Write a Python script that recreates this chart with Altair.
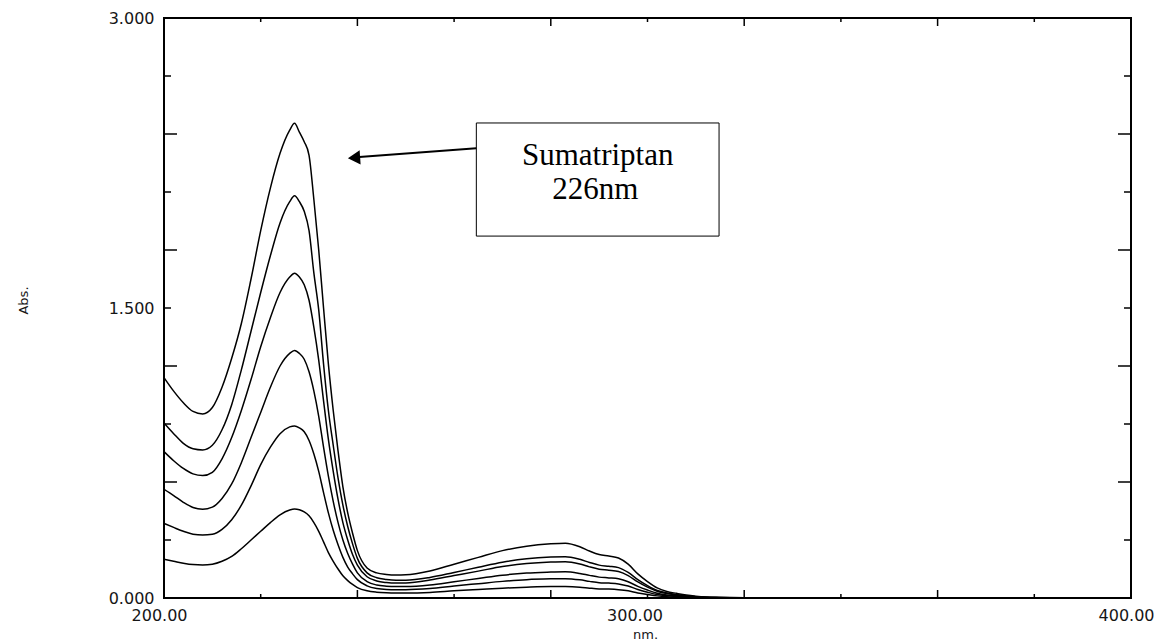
import altair as alt
import pandas as pd

# ---------------- data ----------------
wavelength = [200, 202, 204, 206, 208, 210, 212, 214, 216, 218, 220, 222, 224, 226,
              227, 228, 229, 230, 231, 232, 233, 234, 235, 236, 237, 238, 239, 240,
              242, 244, 246, 248, 250,
              255, 260, 265, 270, 275, 280,
              283, 286, 288, 290, 292, 294, 296, 298, 300, 302, 304, 306, 308, 310, 312,
              315, 320, 330, 350, 400]

abs_c1 = [1.14, 1.07, 1.01, 0.965, 0.952, 0.985, 1.09, 1.24, 1.42, 1.65, 1.90, 2.12, 2.30, 2.42,
          2.455, 2.41, 2.36, 2.29, 2.06, 1.80, 1.50, 1.21, 0.97, 0.76, 0.575, 0.44, 0.335, 0.245,
          0.155, 0.13, 0.122, 0.119, 0.12,
          0.14, 0.175, 0.21, 0.245, 0.268, 0.28,
          0.283, 0.265, 0.243, 0.225, 0.217, 0.207, 0.175, 0.125, 0.085, 0.052, 0.034, 0.024, 0.015, 0.009, 0.005,
          0.003, 0.001, 0.0, 0.0, 0.0]

abs_c2 = [0.905, 0.85, 0.80, 0.772, 0.766, 0.79, 0.87, 1.00, 1.18, 1.38, 1.58, 1.77, 1.94, 2.05,
          2.08, 2.05, 2.00, 1.90, 1.68, 1.49, 1.21, 0.97, 0.79, 0.62, 0.48, 0.37, 0.28, 0.205,
          0.13, 0.105, 0.096, 0.092, 0.092,
          0.106, 0.132, 0.159, 0.185, 0.203, 0.212,
          0.214, 0.200, 0.184, 0.170, 0.164, 0.157, 0.132, 0.095, 0.064, 0.039, 0.026, 0.018, 0.011, 0.007, 0.004,
          0.002, 0.001, 0.0, 0.0, 0.0]

abs_c3 = [0.757, 0.71, 0.67, 0.642, 0.633, 0.65, 0.72, 0.83, 0.97, 1.13, 1.30, 1.45, 1.58, 1.66,
          1.68, 1.66, 1.62, 1.54, 1.40, 1.23, 1.02, 0.82, 0.655, 0.51, 0.39, 0.30, 0.225, 0.17,
          0.11, 0.088, 0.08, 0.077, 0.078,
          0.093, 0.116, 0.139, 0.163, 0.178, 0.186,
          0.188, 0.176, 0.161, 0.149, 0.144, 0.137, 0.116, 0.083, 0.056, 0.035, 0.023, 0.016, 0.010, 0.006, 0.003,
          0.002, 0.001, 0.0, 0.0, 0.0]

abs_c4 = [0.562, 0.53, 0.495, 0.468, 0.459, 0.47, 0.515, 0.59, 0.70, 0.83, 0.96, 1.09, 1.20, 1.265,
          1.28, 1.265, 1.235, 1.17, 1.07, 0.94, 0.78, 0.63, 0.50, 0.39, 0.30, 0.23, 0.175, 0.13,
          0.085, 0.067, 0.061, 0.059, 0.059,
          0.067, 0.084, 0.101, 0.118, 0.129, 0.134,
          0.136, 0.127, 0.117, 0.108, 0.104, 0.099, 0.084, 0.060, 0.041, 0.025, 0.016, 0.012, 0.007, 0.004, 0.002,
          0.001, 0.0, 0.0, 0.0, 0.0]

abs_c5 = [0.386, 0.365, 0.345, 0.33, 0.326, 0.33, 0.355, 0.405, 0.48, 0.58, 0.69, 0.78, 0.85, 0.885,
          0.89, 0.88, 0.86, 0.815, 0.745, 0.655, 0.545, 0.44, 0.35, 0.275, 0.21, 0.16, 0.125, 0.095,
          0.063, 0.049, 0.044, 0.043, 0.043,
          0.049, 0.062, 0.074, 0.086, 0.095, 0.099,
          0.10, 0.094, 0.086, 0.079, 0.077, 0.073, 0.062, 0.044, 0.030, 0.018, 0.012, 0.008, 0.005, 0.003, 0.002,
          0.001, 0.0, 0.0, 0.0, 0.0]

abs_c6 = [0.20, 0.19, 0.18, 0.173, 0.171, 0.175, 0.19, 0.215, 0.255, 0.30, 0.345, 0.39, 0.43, 0.455,
          0.46, 0.456, 0.445, 0.425, 0.39, 0.345, 0.29, 0.235, 0.19, 0.15, 0.115, 0.09, 0.07, 0.054,
          0.037, 0.030, 0.027, 0.026, 0.026,
          0.029, 0.037, 0.044, 0.051, 0.056, 0.059,
          0.059, 0.056, 0.051, 0.047, 0.046, 0.043, 0.037, 0.026, 0.018, 0.011, 0.007, 0.005, 0.003, 0.002, 0.001,
          0.0005, 0.0, 0.0, 0.0, 0.0]

series = {"c1": abs_c1, "c2": abs_c2, "c3": abs_c3, "c4": abs_c4, "c5": abs_c5, "c6": abs_c6}

x_label_values = [200, 300, 400]
y_label_values = [0.0, 1.5, 3.0]
x_ticks_long = [240, 280, 320, 360]
x_ticks_short = [220, 260, 300, 340, 380]
y_ticks_long = [0.6, 1.2, 1.8, 2.4]
y_ticks_short = [0.3, 0.9, 1.5, 2.1, 2.7]

# annotation (data coordinates)
box_nm = [264.6, 314.8]
box_abs = [1.872, 2.457]
label_lines = ["Sumatriptan", "226nm"]
label_nm = [289.7, 289.2]
label_abs = [2.240, 2.064]
arrow_nm = [264.6, 239.0]
arrow_abs = [2.326, 2.278]
head_nm = [239.3]
head_abs = [2.277]

# ---------------- chart ----------------
PLOT_W, PLOT_H = 967, 580

rows = []
for name, vals in series.items():
    assert len(vals) == len(wavelength), name
    for w, a in zip(wavelength, vals):
        rows.append({"nm": w, "abs": a, "curve": name})
df = pd.DataFrame(rows)

xs = alt.Scale(domain=[200, 400], nice=False, zero=False)
ys = alt.Scale(domain=[0, 3], nice=False, zero=False)

x_axis = alt.Axis(
    values=x_label_values, format=".2f", title="nm.", labelPadding=9,
    labelFlush=False, labelOverlap=False,
    labelOffset=alt.condition("datum.value == 300", alt.value(-13), alt.value(-5)),
    titleX=481, titleY=30, titleBaseline="top", titleAlign="center")
y_axis = alt.Axis(
    values=y_label_values, format=".3f", title="Abs.", labelPadding=10,
    labelFlush=False, labelOverlap=False,
    titleX=-141, titleY=282, titleAngle=270, titleAlign="center", titleBaseline="middle")


def X(field):
    return alt.X(field, type="quantitative", scale=xs, axis=x_axis, title="nm.")


def Y(field):
    return alt.Y(field, type="quantitative", scale=ys, axis=y_axis, title="Abs.")


lines = alt.Chart(df).mark_line(color="black", strokeWidth=1.5, interpolate="monotone").encode(
    x=X("nm"), y=Y("abs"), detail="curve:N",
)


def xtick_layer(vals, length, top):
    d = pd.DataFrame({"nm": vals})
    if top:
        enc = dict(y=alt.value(0), y2=alt.value(length))
    else:
        enc = dict(y=alt.value(PLOT_H), y2=alt.value(PLOT_H - length))
    return alt.Chart(d).mark_rule(color="black", strokeWidth=1.5).encode(x=X("nm"), **enc)


def ytick_layer(vals, length, right):
    d = pd.DataFrame({"abs": vals})
    if right:
        enc = dict(x=alt.value(PLOT_W), x2=alt.value(PLOT_W - length))
    else:
        enc = dict(x=alt.value(0), x2=alt.value(length))
    return alt.Chart(d).mark_rule(color="black", strokeWidth=1.5).encode(y=Y("abs"), **enc)


ticks = [
    xtick_layer(x_ticks_long, 8, False), xtick_layer(x_ticks_short, 4, False),
    xtick_layer(x_ticks_long, 8, True), xtick_layer(x_ticks_short, 4, True),
    ytick_layer(y_ticks_long, 13, False), ytick_layer(y_ticks_short, 7, False),
    ytick_layer(y_ticks_long, 13, True), ytick_layer(y_ticks_short, 7, True),
]

box_df = pd.DataFrame({"x1": [box_nm[0]], "x2": [box_nm[1]], "y1": [box_abs[0]], "y2": [box_abs[1]]})
box = alt.Chart(box_df).mark_rect(fill="white", stroke="black", strokeWidth=1).encode(
    x=X("x1"), x2="x2:Q", y=Y("y1"), y2="y2:Q")

txt_df = pd.DataFrame({"t": label_lines, "nm": label_nm, "abs": label_abs})
txt = alt.Chart(txt_df).mark_text(font="Liberation Serif", fontSize=31, color="black",
                                  align="center", baseline="alphabetic").encode(
    x=X("nm"), y=Y("abs"), text="t:N")

arr_df = pd.DataFrame({"x1": [arrow_nm[0]], "x2": [arrow_nm[1]], "y1": [arrow_abs[0]], "y2": [arrow_abs[1]]})
arrow = alt.Chart(arr_df).mark_rule(color="black", strokeWidth=2).encode(
    x=X("x1"), x2="x2:Q", y=Y("y1"), y2="y2:Q")

head_df = pd.DataFrame({"nm": head_nm, "abs": head_abs})
head = alt.Chart(head_df).mark_point(shape="triangle-left", filled=True, size=200,
                                     color="black", opacity=1, angle=356).encode(
    x=X("nm"), y=Y("abs"))

chart = alt.layer(lines, *ticks, box, txt, arrow, head).properties(
    width=PLOT_W, height=PLOT_H,
    padding={"left": 164, "top": 18, "right": 40, "bottom": 42},
    autosize=alt.AutoSizeParams(type="none"),
    background="white",
).configure_view(
    stroke="black", strokeWidth=2
).configure_axis(
    domain=False, ticks=False, grid=False,
    labelFont="DejaVu Sans", labelFontSize=16, labelColor="#161616",
    titleFont="DejaVu Sans", titleFontSize=13, titleFontWeight="normal", titleColor="#161616",
)

chart.save("out.html", embed_options={"renderer": "svg", "actions": False})
